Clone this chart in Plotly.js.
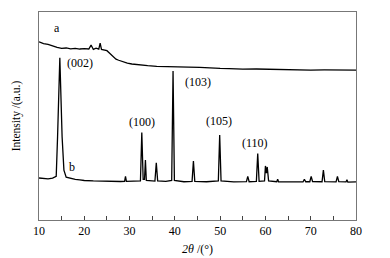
<!DOCTYPE html>
<html>
<head>
<meta charset="utf-8">
<script src="https://cdn.plot.ly/plotly-3.0.1.min.js"></script>
<style>
  body { margin: 0; background: #fff; }
  #chart { width: 390px; height: 258px; }
</style>
</head>
<body>
<div id="chart"></div>
<script>
// curve a (amorphous, top)
const xA = [10, 11, 12, 13, 14, 15, 16, 17, 18, 19, 20, 21, 21.5, 22, 22.6, 23.2, 23.5, 23.8, 24.5, 25, 25.6, 26.3, 27, 27.6, 28.5, 29.5, 30.5, 32.3, 34, 36, 38, 40, 43, 45.5, 48, 50, 52, 55, 58, 61, 64, 67, 70, 73, 76, 78, 80];
const yA = [85.7, 84.8, 84.4, 83.6, 83.0, 82.5, 82.7, 82.3, 82.5, 82.2, 82.4, 82.2, 84.1, 82.0, 82.6, 82.1, 85.0, 82.0, 81.7, 81.4, 80.2, 78.5, 77.3, 76.8, 76.1, 75.4, 75.0, 74.5, 74.2, 73.9, 73.7, 73.6, 73.5, 73.4, 73.0, 72.9, 72.8, 72.5, 72.6, 72.4, 72.3, 72.2, 72.1, 72.2, 72.1, 72.0, 72.1];

// curve b (crystalline, bottom)
const xB = [10, 11, 12, 13, 13.8, 14.1, 14.6, 15.1, 15.5, 16, 17, 18, 19, 20, 22, 24, 26, 28, 28.9, 29.1, 29.3, 31, 32.4, 32.7, 33.0, 33.3, 33.5, 33.7, 35.6, 35.9, 36.2, 38, 39.3, 39.6, 39.9, 42, 43.8, 44.1, 44.4, 47, 49.6, 49.9, 50.2, 53, 55.8, 56.1, 56.4, 58.0, 58.3, 58.6, 59.8, 60.0, 60.2, 60.4, 60.7, 62.5, 62.7, 62.9, 65, 67, 68.3, 68.6, 68.9, 69.8, 70.1, 70.4, 72.5, 72.8, 73.1, 75.6, 75.9, 76.2, 77.8, 78.0, 78.2, 80];
const yB = [20.2, 19.9, 19.8, 20.1, 21.0, 40.0, 78.0, 40.0, 24.0, 20.6, 20.0, 19.5, 19.3, 19.0, 18.8, 18.6, 18.5, 18.5, 18.6, 21.0, 18.6, 18.6, 18.8, 42.0, 19.5, 19.5, 28.8, 19.0, 18.7, 27.5, 18.8, 18.6, 19.0, 71.6, 19.0, 18.4, 18.6, 28.4, 18.6, 18.4, 18.8, 40.9, 18.8, 18.3, 18.4, 21.0, 18.4, 18.6, 32.0, 18.6, 18.8, 26.0, 22.5, 25.5, 18.8, 18.4, 19.6, 18.4, 18.3, 18.2, 18.3, 19.6, 18.4, 18.4, 21.0, 18.5, 18.4, 24.0, 18.4, 18.3, 21.0, 18.4, 18.3, 19.3, 18.2, 18.3];

// labels
const peakLabels = ["(002)", "(100)", "(103)", "(105)", "(110)", "a", "b"];
const labelX = [19.1, 32.7, 45.0, 49.7, 57.6, 13.9, 17.2];
const labelY = [75.5, 47.0, 66.3, 47.6, 36.9, 92.2, 25.6];

const lineStyle = { color: "#000", width: 1.3 };

const data = [
  { x: xA, y: yA, type: "scatter", mode: "lines", line: lineStyle, showlegend: false, hoverinfo: "skip" },
  { x: xB, y: yB, type: "scatter", mode: "lines", line: lineStyle, showlegend: false, hoverinfo: "skip" }
];

const annotations = peakLabels.map((t, i) => ({
  x: labelX[i], y: labelY[i], xref: "x", yref: "y",
  text: t, showarrow: false,
  font: { family: "Liberation Serif", size: 12, color: "#000" }
}));

const layout = {
  width: 390, height: 258,
  margin: { l: 39, r: 34, t: 12, b: 38 },
  paper_bgcolor: "#fff", plot_bgcolor: "#fff",
  font: { family: "Liberation Serif", size: 12, color: "#000" },
  showlegend: false,
  annotations: annotations,
  xaxis: {
    range: [10, 80],
    tickvals: [10, 20, 30, 40, 50, 60, 70, 80],
    ticks: "inside", ticklen: 4, tickcolor: "#444",
    minor: { dtick: 5, tick0: 10, ticks: "inside", ticklen: 4, tickcolor: "#444" },
    showline: true, linecolor: "#777", linewidth: 1, mirror: true,
    showgrid: false, zeroline: false,
    tickfont: { family: "Liberation Serif", size: 12 },
    title: { text: "<i>2θ</i> /(°)", font: { family: "Liberation Serif", size: 12 }, standoff: 7 }
  },
  yaxis: {
    range: [0, 100],
    showticklabels: false, ticks: "",
    showline: true, linecolor: "#777", linewidth: 1, mirror: true,
    showgrid: false, zeroline: false,
    title: { text: "Intensity /(a.u.)", font: { family: "Liberation Serif", size: 11.5 }, standoff: 14 }
  }
};

Plotly.newPlot("chart", data, layout, { displayModeBar: false, staticPlot: true });
</script>
</body>
</html>
